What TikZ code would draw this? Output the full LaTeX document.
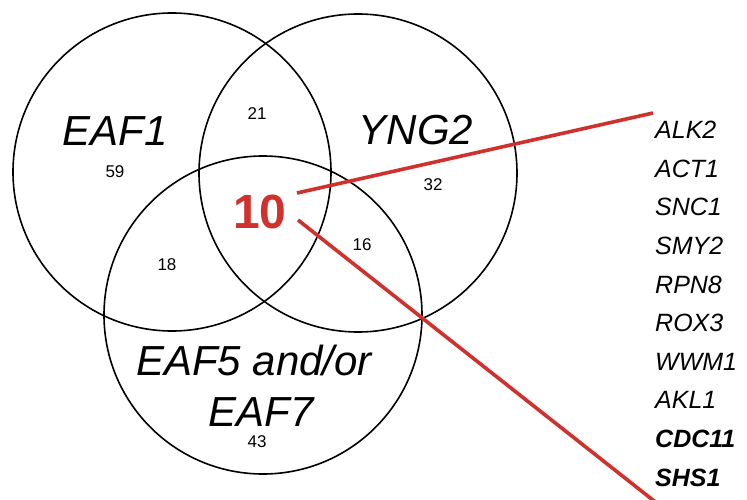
\documentclass[tikz,border=0pt]{standalone}
\usepackage{fontspec}
\setmainfont{Liberation Sans}
\definecolor{vred}{HTML}{D0312D}
\begin{document}
\begin{tikzpicture}[x=1pt,y=-1pt,
  ring/.style={draw=black,line width=1.6pt,circle,minimum size=318pt,inner sep=0pt},
  setlabel/.style={font=\fontsize{42}{46}\selectfont\itshape},
  count/.style={font=\fontsize{17}{19}\selectfont},
  gene/.style={font=\fontsize{25}{27}\selectfont\itshape,anchor=west,inner sep=0pt},
  bgene/.style={gene,font=\fontsize{25}{27}\selectfont\bfseries\itshape},
  link/.style={draw=vred,line width=3.6pt}]
\useasboundingbox (0,0) rectangle (747,500);
\begin{scope}
\clip (0,0) rectangle (747,500);
\node[ring] (cl) at (172,172) {};
\node[ring] (cr) at (358,173) {};
\node[ring] (cb) at (263,315) {};
\node[setlabel] (l1) at (115,131) {EAF1};
\node[setlabel] (l2) at (416,130) {YNG2};
\node[setlabel] (l3) at (254,360) {EAF5 and/or};
\node[setlabel] (l4) at (261,412) {EAF7};
\node[count] (n59) at (115,172) {59};
\node[count] (n21) at (257,114) {21};
\node[count] (n32) at (433,185) {32};
\node[count] (n16) at (362,245) {16};
\node[count] (n18) at (167,265) {18};
\node[count] (n43) at (257,442) {43};
\node[font=\fontsize{48}{52}\selectfont\bfseries,text=vred,inner sep=0pt] (ten) at (260,212) {10};
\foreach \g [count=\i from 0] in {ALK2,ACT1,SNC1,SMY2,RPN8,ROX3,WWM1,AKL1}
  \node[gene] (g\i) at (655,130+38.6*\i) {\g};
\node[bgene] (g8) at (655,130+38.6*8) {CDC11};
\node[bgene] (g9) at (655,130+38.6*9) {SHS1};
\coordinate (top) at (653,113);
\coordinate (bot) at (663,508);
\coordinate (a1) at (297,193);
\coordinate (a2) at (298,220);
\draw[link] (a1) -- (top);
\draw[link] (a2) -- (bot);
\end{scope}
\end{tikzpicture}
\end{document}
